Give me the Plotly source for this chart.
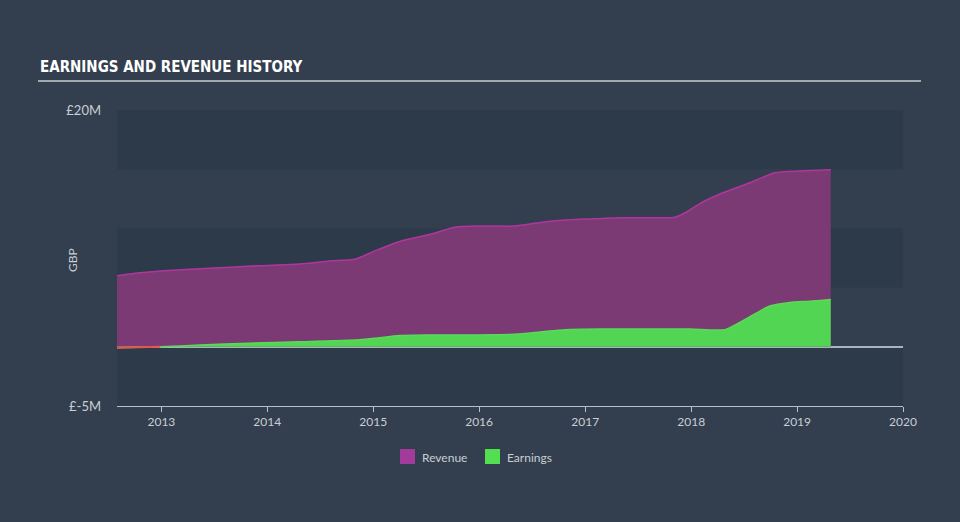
import numpy as np
import plotly.graph_objects as go

# ---- data (GBP millions) ----
rev_dates = ["2012-08-01", "2012-10-20", "2012-12-28", "2013-05-15", "2013-12-05",
             "2014-04-22", "2014-08-04", "2014-10-30", "2015-01-07", "2015-04-02",
             "2015-07-16", "2015-10-09", "2016-01-03", "2016-05-04", "2016-07-30",
             "2016-10-24", "2017-01-18", "2017-05-01", "2017-11-06", "2017-12-10",
             "2018-01-31", "2018-04-10", "2018-07-22", "2018-10-16", "2019-01-11",
             "2019-04-27"]
revenue = [6.0, 6.25, 6.4, 6.6, 6.85, 7.0, 7.25, 7.4, 8.1, 8.9,
           9.5, 10.1, 10.2, 10.2, 10.5, 10.7, 10.8, 10.9, 10.95, 11.3,
           12.1, 12.9, 13.85, 14.7, 14.85, 14.95]

earn_dates = ["2012-08-01", "2012-12-28", "2013-05-15", "2013-11-01", "2014-04-22",
              "2014-11-15", "2015-01-07", "2015-04-02", "2015-07-16", "2016-01-03",
              "2016-05-04", "2016-07-30", "2016-10-24", "2017-02-21", "2017-12-27",
              "2018-04-27", "2018-07-05", "2018-09-29", "2018-12-07", "2019-02-14",
              "2019-04-27"]
earnings = [-0.08, 0.0, 0.15, 0.3, 0.42, 0.6, 0.72, 0.95, 1.0, 1.0,
            1.05, 1.25, 1.45, 1.5, 1.5, 1.45, 2.3, 3.45, 3.75, 3.85, 4.0]

y_ticks = [-5, 20]
y_tick_text = ["£-5M", "£20M"]
x_ticks = ["2013-01-01", "2014-01-01", "2015-01-01", "2016-01-01",
           "2017-01-01", "2018-01-01", "2019-01-01", "2020-01-01"]
x_tick_text = ["2013", "2014", "2015", "2016", "2017", "2018", "2019", "2020"]
band_edges = [-5, 0, 5, 10, 15, 20]
legend_names = ["Revenue", "Earnings"]

PAPER = "#333f4f"
DARK = "#2d3a49"
TXT = "#c9ced4"
REV_FILL = "#7b3a74"
REV_LINE = "#b0369f"
EARN_FILL = "#52d552"
EARN_LINE = "#58dc58"
SWATCH = ["#a23b9a", "#52e052"]

# plot area in pixels (for placing paper-referenced decorations)
L, R, T, B = 117, 903, 110, 406
W, H = R - L, B - T


def px(x):
    return (x - L) / W


def py(y):
    return (B - y) / H


fig = go.Figure()

fig.add_trace(go.Scatter(
    x=rev_dates, y=revenue, name="Revenue", mode="lines",
    line=dict(color=REV_LINE, width=1.5, shape="spline", smoothing=0.6),
    fill="tozeroy", fillcolor=REV_FILL, showlegend=False,
))
fig.add_trace(go.Scatter(
    x=earn_dates, y=earnings, name="Earnings", mode="lines",
    line=dict(color=EARN_LINE, width=1.5, shape="spline", smoothing=0.6),
    fill="tozeroy", fillcolor=EARN_FILL, showlegend=False,
))

# negative earnings segment in red
e = np.array(earnings)
n_neg = int(np.argmax(e >= 0)) + 1
fig.add_trace(go.Scatter(
    x=earn_dates[:n_neg], y=list(e[:n_neg]), mode="lines",
    line=dict(color="#e8524f", width=2), showlegend=False, hoverinfo="skip",
))

shapes = []
for i in range(len(band_edges) - 1):
    idx_from_top = len(band_edges) - 2 - i
    if idx_from_top % 2 == 0:
        shapes.append(dict(type="rect", xref="paper", yref="y", x0=0, x1=1,
                           y0=band_edges[i], y1=band_edges[i + 1],
                           fillcolor=DARK, line=dict(width=0), layer="below"))
# title underline
shapes.append(dict(type="line", xref="paper", yref="paper",
                   x0=px(38), x1=px(921), y0=py(81), y1=py(81),
                   line=dict(color="#c8ccd1", width=1.5)))

annotations = [
    dict(text="<b>EARNINGS AND REVENUE HISTORY</b>",
         xref="paper", yref="paper", x=px(38), y=py(67),
         xanchor="left", yanchor="middle", showarrow=False,
         font=dict(color="#ffffff", size=15,
                   family="Liberation Sans Narrow, DejaVu Sans Condensed, sans-serif")),
    dict(text="GBP", xref="paper", yref="paper",
         x=px(72), y=py(260), xanchor="center", yanchor="middle",
         textangle=-90, showarrow=False,
         font=dict(color=TXT, size=12, family="Lato")),
]

# manual legend: square swatch + label
legend_x = [400, 485]
for nm, col, lx in zip(legend_names, SWATCH, legend_x):
    shapes.append(dict(type="rect", xref="paper", yref="paper",
                       x0=px(lx), x1=px(lx + 15), y0=py(464), y1=py(449),
                       fillcolor=col, line=dict(width=0)))
    annotations.append(dict(text=nm, xref="paper", yref="paper",
                            x=px(lx + 20), y=py(457), xanchor="left", yanchor="middle",
                            showarrow=False,
                            font=dict(color=TXT, size=12, family="Lato")))

fig.update_layout(
    width=960, height=522,
    paper_bgcolor=PAPER, plot_bgcolor=PAPER,
    margin=dict(l=L, r=960 - R, t=T, b=522 - B),
    shapes=shapes,
    annotations=annotations,
    showlegend=False,
)

fig.update_xaxes(
    type="date", range=["2012-08-01", "2020-01-01"],
    tickvals=x_ticks, ticktext=x_tick_text,
    showgrid=False, zeroline=False,
    showline=True, linecolor="#b8bfc7", linewidth=1,
    ticks="outside", ticklen=5, tickcolor="#b8bfc7",
    tickfont=dict(color=TXT, size=12, family="Lato"),
)
fig.update_yaxes(
    range=[-5, 20], tickvals=y_ticks, ticktext=y_tick_text,
    showgrid=False, zeroline=True, zerolinecolor="#aab3bd", zerolinewidth=1.5,
    showline=False, ticks="", ticklabelstandoff=15,
    tickfont=dict(color=TXT, size=13, family="Lato"),
)

fig.write_html("out.html")
